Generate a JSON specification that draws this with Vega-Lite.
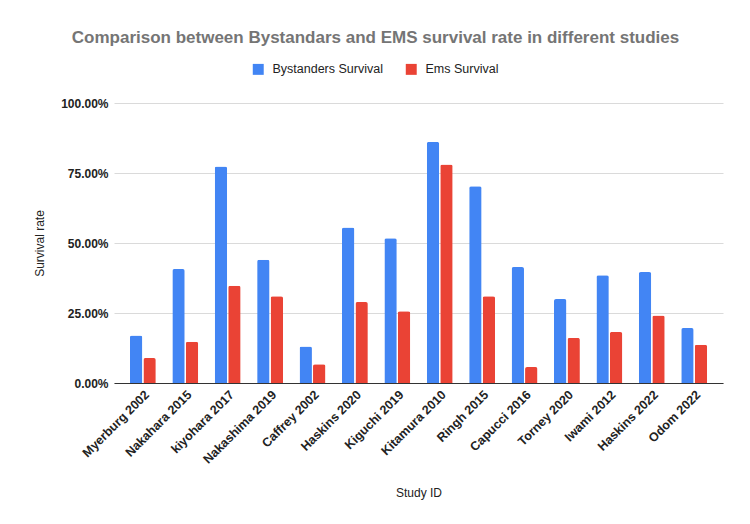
{
  "$schema": "https://vega.github.io/schema/vega-lite/v6.json",
  "width": 609,
  "height": 280,
  "autosize": {"type": "none"},
  "padding": {"left": 114, "top": 103, "right": 27, "bottom": 141},
  "background": "white",
  "title": {
    "text": "Comparison between Bystandars and EMS survival rate in different studies",
    "font": "Liberation Sans",
    "fontSize": 17,
    "fontWeight": "bold",
    "color": "#757575",
    "anchor": "middle",
    "dx": -43,
    "offset": 16
  },
  "config": {
    "view": {"stroke": null},
    "font": "Liberation Sans"
  },
  "data": {
    "values": [
      {"study": "Myerburg 2002", "series": "Bystanders Survival", "rate": 0.170},
      {"study": "Myerburg 2002", "series": "Ems Survival", "rate": 0.089},
      {"study": "Nakahara 2015", "series": "Bystanders Survival", "rate": 0.407},
      {"study": "Nakahara 2015", "series": "Ems Survival", "rate": 0.147},
      {"study": "kiyohara 2017", "series": "Bystanders Survival", "rate": 0.773},
      {"study": "kiyohara 2017", "series": "Ems Survival", "rate": 0.347},
      {"study": "Nakashima 2019", "series": "Bystanders Survival", "rate": 0.440},
      {"study": "Nakashima 2019", "series": "Ems Survival", "rate": 0.310},
      {"study": "Caffrey 2002", "series": "Bystanders Survival", "rate": 0.130},
      {"study": "Caffrey 2002", "series": "Ems Survival", "rate": 0.067},
      {"study": "Haskins 2020", "series": "Bystanders Survival", "rate": 0.555},
      {"study": "Haskins 2020", "series": "Ems Survival", "rate": 0.289},
      {"study": "Kiguchi 2019", "series": "Bystanders Survival", "rate": 0.517},
      {"study": "Kiguchi 2019", "series": "Ems Survival", "rate": 0.256},
      {"study": "Kitamura 2010", "series": "Bystanders Survival", "rate": 0.861},
      {"study": "Kitamura 2010", "series": "Ems Survival", "rate": 0.780},
      {"study": "Ringh 2015", "series": "Bystanders Survival", "rate": 0.703},
      {"study": "Ringh 2015", "series": "Ems Survival", "rate": 0.310},
      {"study": "Capucci 2016", "series": "Bystanders Survival", "rate": 0.414},
      {"study": "Capucci 2016", "series": "Ems Survival", "rate": 0.057},
      {"study": "Torney 2020", "series": "Bystanders Survival", "rate": 0.300},
      {"study": "Torney 2020", "series": "Ems Survival", "rate": 0.161},
      {"study": "Iwami 2012", "series": "Bystanders Survival", "rate": 0.385},
      {"study": "Iwami 2012", "series": "Ems Survival", "rate": 0.182},
      {"study": "Haskins 2022", "series": "Bystanders Survival", "rate": 0.396},
      {"study": "Haskins 2022", "series": "Ems Survival", "rate": 0.241},
      {"study": "Odom 2022", "series": "Bystanders Survival", "rate": 0.196},
      {"study": "Odom 2022", "series": "Ems Survival", "rate": 0.137}
    ]
  },
  "mark": {"type": "bar", "cornerRadiusEnd": 2},
  "encoding": {
    "x": {
      "field": "study",
      "type": "nominal",
      "sort": null,
      "scale": {"paddingInner": 0.39, "paddingOuter": 0.375},
      "axis": {
        "title": "Study ID",
        "titleFont": "Liberation Sans",
        "titleFontSize": 12,
        "titleFontWeight": "normal",
        "titleColor": "#222",
        "titlePadding": 22,
        "labelAngle": -45,
        "labelFontSize": 12.5,
        "labelFontWeight": "bold",
        "labelColor": "#222",
        "labelPadding": 5,
        "ticks": false,
        "domainColor": "#333",
        "domainWidth": 1.2
      }
    },
    "xOffset": {
      "field": "series",
      "type": "nominal",
      "scale": {"paddingInner": 0.08}
    },
    "y": {
      "field": "rate",
      "type": "quantitative",
      "scale": {"domain": [0, 1]},
      "axis": {
        "title": "Survival rate",
        "titleFontSize": 12,
        "titleFontWeight": "normal",
        "titleColor": "#222",
        "titlePadding": 14,
        "format": ".2%",
        "values": [0, 0.25, 0.5, 0.75, 1],
        "labelFontSize": 12,
        "labelFontWeight": "bold",
        "labelColor": "#222",
        "labelPadding": 6,
        "ticks": false,
        "domain": false,
        "gridColor": "#dadada",
        "gridWidth": 1
      }
    },
    "color": {
      "field": "series",
      "type": "nominal",
      "scale": {"domain": ["Bystanders Survival", "Ems Survival"], "range": ["#4285F4", "#EA4335"]},
      "legend": {
        "title": null,
        "orient": "none",
        "direction": "horizontal",
        "legendX": 138,
        "legendY": -40,
        "symbolType": "square",
        "symbolSize": 120,
        "symbolStrokeWidth": 0,
        "labelFontSize": 12.5,
        "labelColor": "#222",
        "columnPadding": 22,
        "labelOffset": 8
      }
    }
  }
}
